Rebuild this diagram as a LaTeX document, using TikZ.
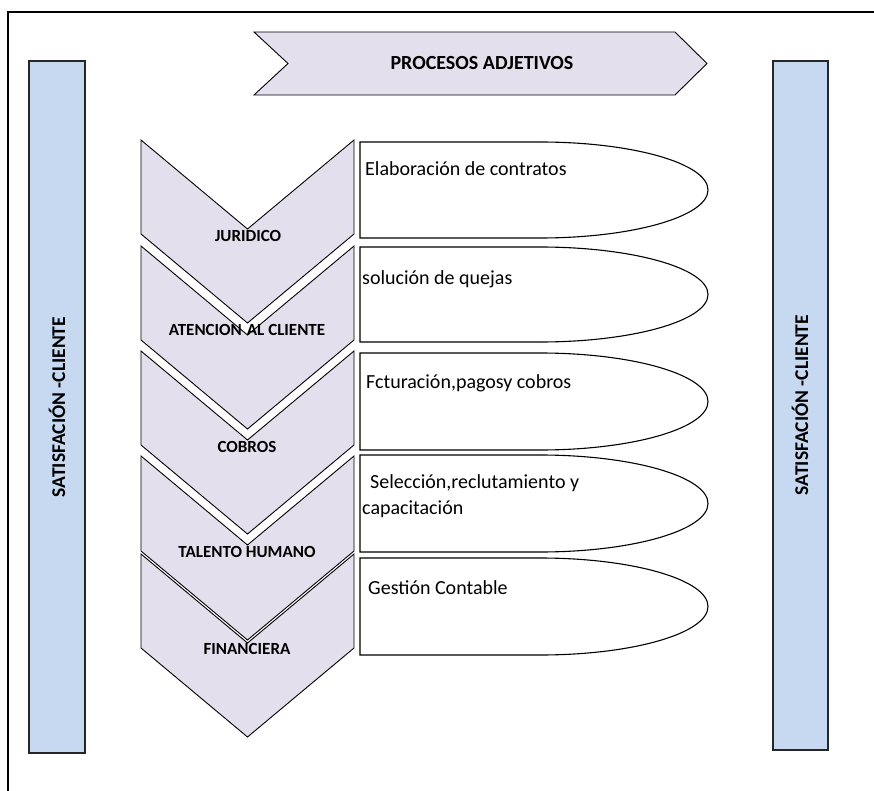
\documentclass[tikz,border=0pt]{standalone}
\usepackage{fontspec}
\setmainfont{Carlito}
\definecolor{lav}{HTML}{E4DFEC}
\definecolor{barblue}{HTML}{C6D9F1}
\begin{document}
\begin{tikzpicture}[x=1pt,y=1pt,
  chev/.style={draw=black,line width=0.9pt,fill=lav,line join=miter},
  bar/.style={draw=black!85,line width=1.4pt,fill=barblue},
  tab/.style={draw=black,line width=1.1pt,fill=white},
  chevlabel/.style={font=\fontsize{17}{20}\selectfont\bfseries,inner sep=0pt},
  boxtext/.style={font=\fontsize{20}{26}\selectfont,inner sep=0pt,anchor=base west,align=left},
  bartext/.style={font=\fontsize{19.5}{22}\selectfont\bfseries,rotate=90,inner sep=0pt}]
\useasboundingbox (0,0) rectangle (874,-791);
% outer frame
\draw[line width=2.2pt] (8,-795) -- (8,-12) -- (880,-12);
% side bars
\draw[bar] (29,-61) rectangle (85,-753);
\draw[bar] (773,-61) rectangle (828,-750);
\node[bartext] (satl) at (57,-407) {SATISFACIÓN -CLIENTE};
\node[bartext] (satr) at (800,-405) {SATISFACIÓN -CLIENTE};
% top arrow
\draw[chev] (254,-32) -- (675,-32) -- (707,-63.5) -- (675,-95) -- (254,-95) -- (288,-63.5) -- cycle;
\node[font=\fontsize{20}{24}\selectfont\bfseries,inner sep=0pt] (proc) at (482,-63) {PROCESOS ADJETIVOS};
% chevrons
\foreach \t/\s in {140/94, 246/94, 351/94, 456/95, 554/94}{
  \draw[chev] (141,-\t) -- (247.5,{-\t-89}) -- (354,-\t) -- (354,{-\t-\s})
     -- (247.5,{-\t-\s-89}) -- (141,{-\t-\s}) -- cycle;
}
\node[chevlabel] (jur) at (248,-236) {JURIDICO};
\node[chevlabel] (ate) at (247,-330) {ATENCION\hspace{5pt}AL CLIENTE};
\node[chevlabel] (cob) at (247,-447) {COBROS};
\node[chevlabel] (tal) at (247,-552) {TALENTO HUMANO};
\node[chevlabel] (fin) at (247,-649) {FINANCIERA};
% right rounded boxes
\foreach \t/\b in {142/238, 247/342, 353/450, 455/552, 558/655}{
  \draw[tab] (360,-\b) -- (360,-\t) -- (540,-\t)
     arc[start angle=90,end angle=-90,x radius=168,y radius={(\b-\t)/2}] -- cycle;
}
\node[boxtext] (t1) at (365,-176) {Elaboración de contratos};
\node[boxtext] (t2) at (362,-284) {solución de quejas};
\node[boxtext] (t3) at (366,-388) {Fcturación,pagosy cobros};
\node[boxtext] (t4a) at (370,-488) {Selección,reclutamiento y};
\node[boxtext] (t4b) at (362,-514) {capacitación};
\node[boxtext] (t5) at (368,-594) {Gestión Contable};
\end{tikzpicture}
\end{document}
